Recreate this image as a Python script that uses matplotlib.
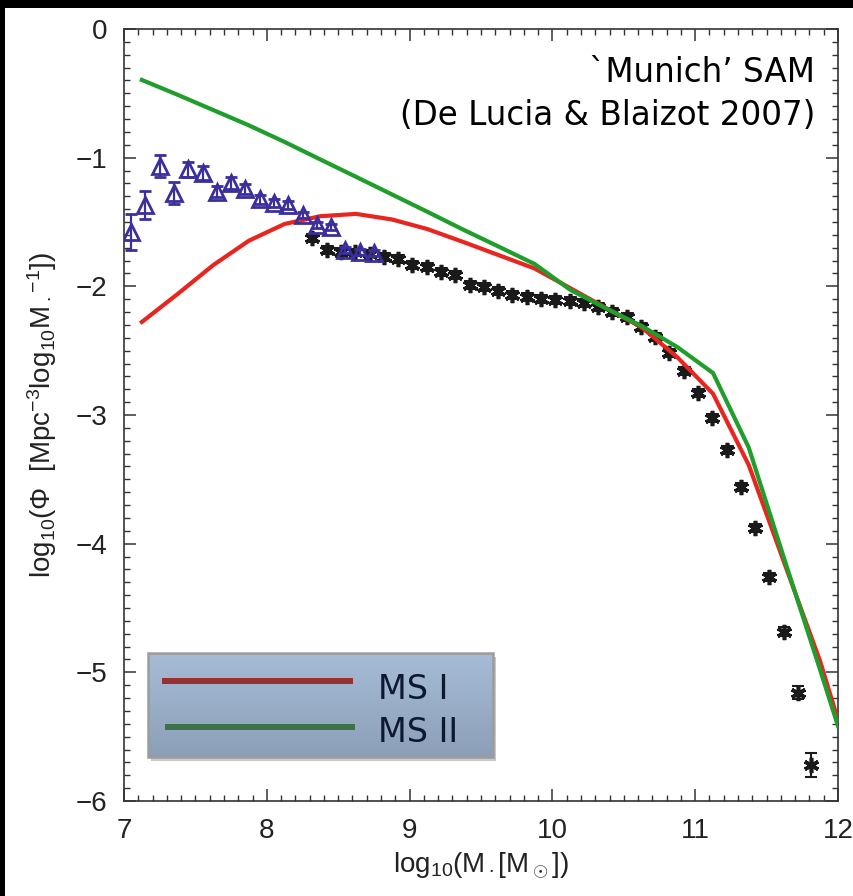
import numpy as np
import matplotlib.pyplot as plt
from matplotlib.patches import Rectangle
from matplotlib.lines import Line2D
from matplotlib.colors import LinearSegmentedColormap
from matplotlib.ticker import MultipleLocator

# model curves (Millennium I / II runs of the Munich SAM)
mod_x = [7.125, 7.375, 7.625, 7.875, 8.125, 8.375, 8.625, 8.875, 9.125, 9.375,
         9.625, 9.875, 10.125, 10.375, 10.625, 10.875, 11.125, 11.375, 11.625,
         11.875, 12.0]
ms1_y = [-2.277, -2.060, -1.835, -1.645, -1.515, -1.455, -1.437, -1.480, -1.555,
         -1.655, -1.758, -1.861, -2.014, -2.168, -2.319, -2.551, -2.835, -3.389,
         -4.153, -4.914, -5.370]
ms2_y = [-0.396, -0.511, -0.630, -0.749, -0.878, -1.014, -1.149, -1.285, -1.421,
         -1.559, -1.692, -1.826, -2.027, -2.171, -2.308, -2.472, -2.674, -3.253,
         -4.123, -4.982, -5.417]

# low mass observational points (triangles)
tri_x = [7.05, 7.15, 7.25, 7.35, 7.45, 7.55, 7.65, 7.75, 7.85, 7.95, 8.05, 8.15,
         8.25, 8.35, 8.45, 8.55, 8.65, 8.75]
tri_y = [-1.575, -1.368, -1.065, -1.277, -1.090, -1.121, -1.264, -1.199, -1.246,
         -1.324, -1.350, -1.368, -1.446, -1.523, -1.541, -1.718, -1.731, -1.743]
tri_err = [0.14, 0.11, 0.085, 0.085, 0.06, 0.055, 0.045, 0.045, 0.04, 0.035, 0.03,
           0.03, 0.025, 0.025, 0.025, 0.025, 0.025, 0.025]

# SDSS-like points (asterisks)
ast_x = [8.32, 8.42, 8.52, 8.62, 8.72, 8.82, 8.92, 9.02, 9.12, 9.22, 9.32, 9.42,
         9.52, 9.62, 9.72, 9.82, 9.92, 10.02, 10.12, 10.22, 10.32, 10.42, 10.52,
         10.62, 10.72, 10.82, 10.92, 11.02, 11.12, 11.22, 11.32, 11.42, 11.52,
         11.62, 11.72, 11.81]
ast_y = [-1.627, -1.718, -1.731, -1.737, -1.745, -1.770, -1.790, -1.834, -1.847,
         -1.886, -1.912, -1.989, -2.003, -2.036, -2.067, -2.081, -2.101, -2.106,
         -2.114, -2.132, -2.163, -2.197, -2.236, -2.314, -2.394, -2.516, -2.656,
         -2.827, -3.026, -3.272, -3.557, -3.881, -4.261, -4.684, -5.158, -5.720]
ast_err = [0.03] * 33 + [0.035, 0.05, 0.09]

xticks = [7, 8, 9, 10, 11, 12]
yticks = [0, -1, -2, -3, -4, -5, -6]

plt.rcParams['font.family'] = ['Liberation Sans', 'DejaVu Sans']
plt.rcParams['mathtext.fontset'] = 'custom'
plt.rcParams['mathtext.rm'] = 'Liberation Sans'
plt.rcParams['mathtext.it'] = 'Liberation Sans'

fig = plt.figure(figsize=(8.54, 8.96), dpi=100, facecolor='black')
# white slide panel behind the axes
fig.patches.append(Rectangle((5 / 854, 0), 1, 1 - 8 / 896, transform=fig.transFigure,
                             facecolor='white', edgecolor='none', zorder=-10))

ax = fig.add_axes([124 / 854, 1 - 801 / 896, 714 / 854, 772 / 896])
ax.set_facecolor('white')

ax.plot(mod_x, ms1_y, color='#e8261f', lw=3.0, zorder=3)
ax.plot(mod_x, ms2_y, color='#1f9e2c', lw=3.0, zorder=3)

ax.errorbar(tri_x, tri_y, yerr=tri_err, fmt='^', ms=11, mfc='none', mec='#3a2f9c',
            mew=2.0, ecolor='#3a2f9c', elinewidth=1.6, capsize=4, capthick=1.6,
            zorder=4)
ax.errorbar(ast_x, ast_y, yerr=ast_err, fmt='none', ecolor='#1a1a1a',
            elinewidth=1.5, capsize=4.5, capthick=1.5, zorder=2)
ax.plot(ast_x, ast_y, ls='none', marker=(6, 2, 0), ms=11, mec='#1a1a1a', mew=2.6,
        zorder=2)

ax.set_xlim(7, 12)
ax.set_ylim(-6, 0)
ax.set_xticks(xticks)
ax.set_yticks(yticks)
ax.xaxis.set_minor_locator(MultipleLocator(0.1))
ax.yaxis.set_minor_locator(MultipleLocator(0.1))
ax.tick_params(which='both', direction='in', top=True, right=True, color='#333333')
ax.tick_params(which='major', length=8.5, width=1.1, labelsize=20, pad=12,
               labelcolor='#222222')
ax.tick_params(which='minor', length=4.3, width=1.0)
for s in ax.spines.values():
    s.set_linewidth(1.2)
    s.set_color('#333333')

ax.set_xlabel(r'log$_{10}$(M$_\bullet$[M$_\odot$])', fontsize=20, labelpad=5,
              color='#222222')
ax.set_ylabel(r'log$_{10}$($\Phi$  [Mpc$^{-3}$log$_{10}$M$_\bullet$$^{-1}$])',
              fontsize=20, labelpad=12, color='#222222')

# model label
ax.text(0.968, 0.9317, '`Munich\u2019 SAM', transform=ax.transAxes, ha='right',
        va='baseline', fontsize=23.5, family='DejaVu Sans', zorder=6)
ax.text(0.968, 0.8756, '(De Lucia & Blaizot 2007)', transform=ax.transAxes,
        ha='right', va='baseline', fontsize=23.5, family='DejaVu Sans', zorder=6)

# legend box with a soft vertical gradient and shadow
bx0, bx1, by0, by1 = 0.0336, 0.5168, 0.057, 0.1917
ax.add_patch(Rectangle((bx0 + 0.004, by0 - 0.005), bx1 - bx0, by1 - by0,
                       transform=ax.transAxes, facecolor='#c8c8c8',
                       edgecolor='none', zorder=7))
grad = LinearSegmentedColormap.from_list('box', ['#8c9fb8', '#a6bcd6'])
ax.imshow(np.linspace(0, 1, 64).reshape(-1, 1), cmap=grad, origin='lower',
          extent=[bx0, bx1, by0, by1], transform=ax.transAxes, aspect='auto',
          zorder=8)
ax.add_patch(Rectangle((bx0, by0), bx1 - bx0, by1 - by0, transform=ax.transAxes,
                       facecolor='none', edgecolor='#9c9c9c', lw=1.8, zorder=9))
ax.add_line(Line2D([0.0574, 0.3165], [0.1554, 0.1554], transform=ax.transAxes,
                   color='#9a2f2f', lw=4.3, zorder=10))
ax.add_line(Line2D([0.0616, 0.319], [0.0959, 0.0959], transform=ax.transAxes,
                   color='#3b7247', lw=4.3, zorder=10))
ax.text(0.3557, 0.1438, 'MS I', transform=ax.transAxes, va='center', ha='left',
        fontsize=24, family='DejaVu Sans', color='#0b1a30', zorder=10)
ax.text(0.3557, 0.0881, 'MS II', transform=ax.transAxes, va='center', ha='left',
        fontsize=24, family='DejaVu Sans', color='#0b1a30', zorder=10)

ax.set_xlim(7, 12)
ax.set_ylim(-6, 0)

fig.savefig('out.png', dpi=100, facecolor=fig.get_facecolor())
